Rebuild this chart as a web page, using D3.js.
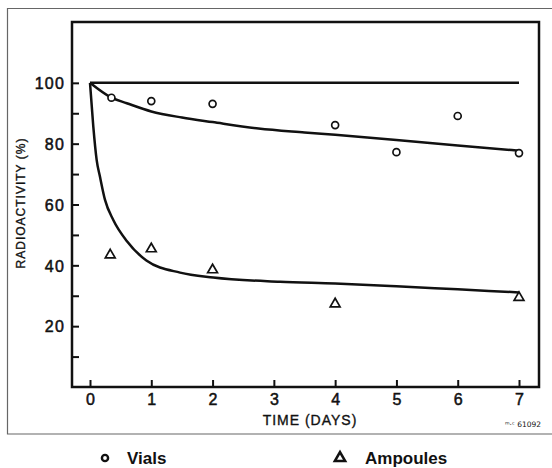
<!DOCTYPE html>
<html><head><meta charset="utf-8">
<script src="https://cdn.jsdelivr.net/npm/d3@7"></script>
<style>
html,body{margin:0;padding:0;background:#fff;}
svg{display:block;}
text{fill:#111;}
</style></head>
<body>
<svg id="c" width="552" height="468"></svg>
<script>
// ---- data ----
const vialDays = [0.35, 1, 2, 4, 5, 6, 7];
const vialValues = [95.1, 94.0, 93.1, 86.1, 77.2, 89.1, 76.9];
const ampouleDays = [0.33, 1, 2, 4, 7];
const ampouleValues = [43.4, 45.4, 38.5, 27.3, 29.4];
// fitted curves as drawn
const vialCurveDays = [0, 0.35, 0.6, 1, 1.5, 2, 2.75, 3.5, 4, 5, 6, 7];
const vialCurveValues = [100, 95.1, 93.3, 90.6, 88.6, 87.1, 85.0, 83.7, 82.9, 81.2, 79.4, 77.7];
const ampCurveDays = [0, 0.054, 0.109, 0.163, 0.245, 0.38, 0.6, 0.92, 1.47, 2.01, 3.1, 4, 5, 6, 7];
const ampCurveValues = [100, 85.6, 74.6, 69.1, 61.5, 54.9, 48.0, 41.6, 37.6, 36.0, 34.6, 34.0, 33.1, 32.1, 31.1];
const refDays = [0, 7];
const refValues = [100, 100];
const xTicks = [0, 1, 2, 3, 4, 5, 6, 7];
const yTicks = [10, 20, 30, 40, 50, 60, 70, 80, 90, 100];
const yLabels = [20, 40, 60, 80, 100];
const xTitle = "TIME (DAYS)";
const yTitle = "RADIOACTIVITY (%)";
const legendNames = ["Vials", "Ampoules"];

// ---- layout ----
const box = {left: 72, right: 539, top: 22, bottom: 387};
const svg = d3.select("#c");
const x = d3.scaleLinear().domain([0, 7]).range([90, 519]);
const y = d3.scaleLinear().domain([0, 120]).range([387, 22]);
const FONT = "Liberation Sans, Arial, sans-serif";

// outer frame (scan border)
svg.append("path")
  .attr("d", "M560,8.5 H7.5 V434 H560")
  .attr("fill", "none").attr("stroke", "#666").attr("stroke-width", 1.2);

// plot box
svg.append("rect")
  .attr("x", box.left).attr("y", box.top)
  .attr("width", box.right - box.left).attr("height", box.bottom - box.top)
  .attr("fill", "none").attr("stroke", "#111").attr("stroke-width", 2.5);

// y axis
const yAxis = d3.axisLeft(y).tickValues(yTicks).tickSizeInner(-7).tickSizeOuter(0).tickPadding(7)
  .tickFormat(d => yLabels.includes(d) ? String(d) : "");
const gy = svg.append("g").attr("transform", `translate(${box.left},0)`).call(yAxis);
gy.select(".domain").remove();
gy.selectAll(".tick line").attr("stroke", "#111").attr("stroke-width", 2);
gy.selectAll(".tick text").attr("font-family", FONT)
  .attr("font-size", 16).attr("letter-spacing", 1.2).attr("fill", "#111")
  .attr("stroke", "#111").attr("stroke-width", 0.5).attr("dy", "0.36em");

// x axis
const xAxis = d3.axisBottom(x).tickValues(xTicks).tickSizeInner(-7).tickSizeOuter(0).tickPadding(10)
  .tickFormat(d3.format("d"));
const gx = svg.append("g").attr("transform", `translate(0,${box.bottom})`).call(xAxis);
gx.select(".domain").remove();
gx.selectAll(".tick line").attr("stroke", "#111").attr("stroke-width", 2);
gx.selectAll(".tick text").attr("font-family", FONT)
  .attr("font-size", 16).attr("fill", "#111").attr("stroke", "#111").attr("stroke-width", 0.5)
  .attr("dy", "0.5em");

// titles
svg.append("text").attr("x", 310).attr("y", 425).attr("text-anchor", "middle")
  .attr("font-family", FONT).attr("font-size", 14).attr("stroke", "#111").attr("stroke-width", 0.35)
  .attr("letter-spacing", 1).text(xTitle);
svg.append("text").attr("transform", "translate(25,203) rotate(-90)").attr("text-anchor", "middle")
  .attr("font-family", FONT).attr("font-size", 12).attr("stroke", "#111").attr("stroke-width", 0.35)
  .attr("letter-spacing", 1).text(yTitle);
svg.append("text").attr("x", 541).attr("y", 427).attr("text-anchor", "end")
  .attr("font-family", "DejaVu Sans, sans-serif").attr("font-size", 7.5).attr("fill", "#444")
  .text("ᵐ·ᶜ 61092");

// lines
const line = d3.line().x(d => x(d[0])).y(d => y(d[1]));
const lineSmooth = d3.line().x(d => x(d[0])).y(d => y(d[1])).curve(d3.curveMonotoneX);
svg.append("path").attr("d", line(d3.zip(refDays, refValues)))
  .attr("fill", "none").attr("stroke", "#111").attr("stroke-width", 2.5);
svg.append("path").attr("d", lineSmooth(d3.zip(vialCurveDays, vialCurveValues)))
  .attr("fill", "none").attr("stroke", "#111").attr("stroke-width", 2.5);
svg.append("path").attr("d", lineSmooth(d3.zip(ampCurveDays, ampCurveValues)))
  .attr("fill", "none").attr("stroke", "#111").attr("stroke-width", 2.5);

// markers
const circ = d3.symbol().type(d3.symbolCircle).size(38);
const tri = d3.symbol().type(d3.symbolTriangle).size(42);
svg.append("g").selectAll("path").data(d3.zip(vialDays, vialValues)).join("path")
  .attr("d", circ).attr("transform", d => `translate(${x(d[0])},${y(d[1])})`)
  .attr("fill", "#fff").attr("stroke", "#111").attr("stroke-width", 1.7);
svg.append("g").selectAll("path").data(d3.zip(ampouleDays, ampouleValues)).join("path")
  .attr("d", tri).attr("transform", d => `translate(${x(d[0])},${y(d[1])})`)
  .attr("fill", "#fff").attr("stroke", "#111").attr("stroke-width", 1.7);

// legend
svg.append("path").attr("d", d3.symbol().type(d3.symbolCircle).size(30)())
  .attr("transform", "translate(105,458)").attr("fill", "#fff").attr("stroke", "#111").attr("stroke-width", 2.4);
svg.append("text").attr("x", 127).attr("y", 464)
  .attr("font-family", FONT).attr("font-weight", "bold").attr("font-size", 17)
  .text(legendNames[0]);
svg.append("path").attr("d", d3.symbol().type(d3.symbolTriangle).size(45)())
  .attr("transform", "translate(340,458)").attr("fill", "#fff").attr("stroke", "#111").attr("stroke-width", 2.6);
svg.append("text").attr("x", 365).attr("y", 464)
  .attr("font-family", FONT).attr("font-weight", "bold").attr("font-size", 17)
  .text(legendNames[1]);
</script>
</body></html>
